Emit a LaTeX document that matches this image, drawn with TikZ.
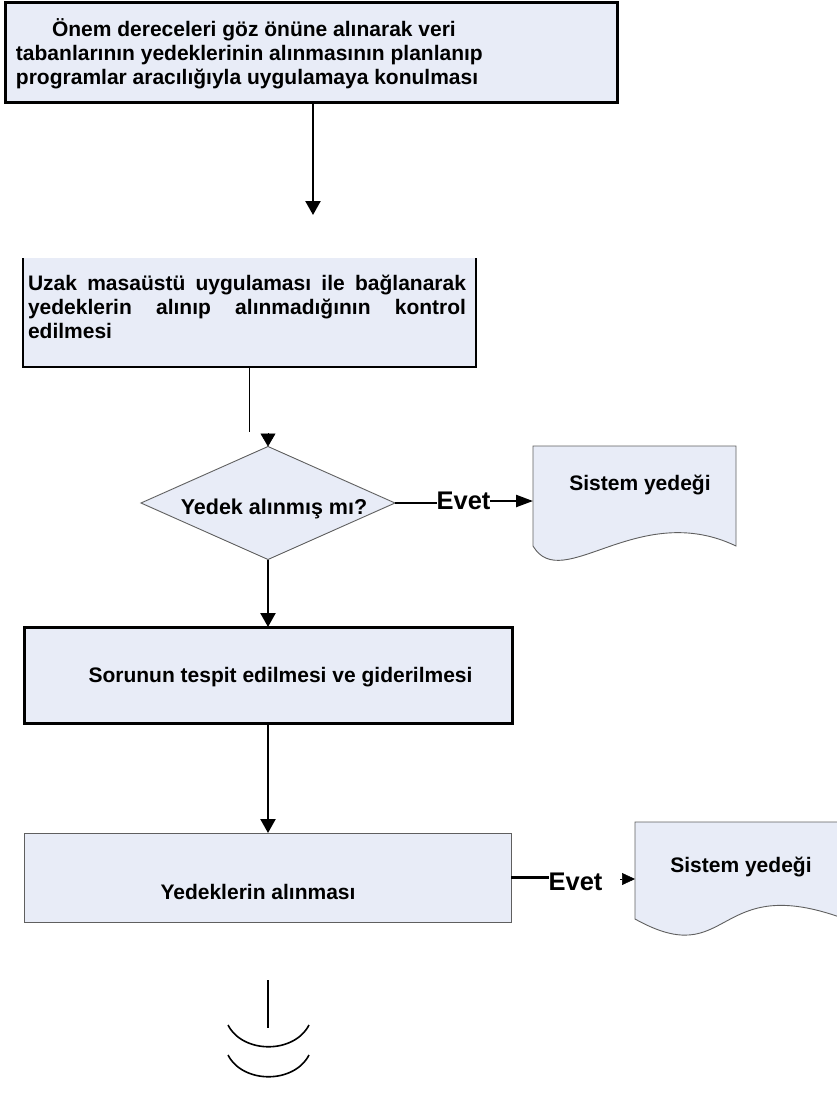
\documentclass[tikz,border=0pt]{standalone}
\usepackage{fontspec}
\setmainfont{Liberation Sans}
\usetikzlibrary{shapes.geometric,arrows.meta,calc}
\definecolor{boxfill}{RGB}{232,236,247}
\definecolor{thinedge}{RGB}{95,95,95}
\begin{document}
\begin{tikzpicture}[x=1pt,y=-1pt,
  every node/.style={inner sep=0pt, outer sep=0pt},
  txt/.style={font=\fontsize{21}{24}\selectfont\bfseries},
  evetlbl/.style={font=\fontsize{25.5}{28}\selectfont\bfseries},
  thickbox/.style={rectangle, draw=black, line width=3pt, fill=boxfill},
  thinbox/.style={rectangle, draw=thinedge, line width=0.9pt, fill=boxfill},
  docedge/.style={draw=thinedge, line width=0.9pt, fill=boxfill},
  conn/.style={line width=2.3pt},
  thinconn/.style={line width=1pt},
  arr/.style={conn, -{Triangle[length=14pt,width=15pt]}}
]
\useasboundingbox (0,0) rectangle (836,1095);

% top box
\node[thickbox, minimum width=612pt, minimum height=100pt] (b1) at (311,52) {};
\node[txt, anchor=base west, align=left] (t1) at (16,84)
  {\hspace*{36pt}Önem dereceleri göz önüne alınarak veri\\
   tabanlarının yedeklerinin alınmasının planlanıp\\
   programlar aracılığıyla uygulamaya konulması};
\coordinate (a1end) at (313,215);
\draw[arr] (b1.south -| a1end) -- (a1end);

% box 2 (no top edge)
\node[rectangle, fill=boxfill, minimum width=453pt, minimum height=109pt] (b2) at (249.5,312.5) {};
\draw[draw=black, line width=1.2pt] (b2.north west) -- (b2.south west) -- (b2.south east) -- (b2.north east);
\node[txt, anchor=base west, text width=438pt, align=justify] (t2) at (28,290)
  {Uzak masaüstü uygulaması ile bağlanarak\linebreak
   yedeklerin alınıp alınmadığının kontrol\linebreak
   edilmesi};

% decision
\node[diamond, draw=thinedge, fill=boxfill, line width=0.9pt, aspect=2.25,
      minimum width=254pt, minimum height=113pt] (dia) at (268,503) {};
\node[txt, font=\fontsize{21.5}{24}\selectfont\bfseries] (dt) at (274,509) {Yedek alınmış mı?};
\coordinate (c2) at (249,432);
\draw[thinconn] (b2.south -| c2) -- (c2);
\coordinate (c3) at (268,433);
\draw[line width=0.5pt, -{Triangle[length=13pt,width=15pt]}] (c3) -- (dia.north);

% Evet 1 and document 1
\node[minimum width=203pt, minimum height=100pt] (doc1) at (634.5,496) {};
\draw[docedge] (doc1.south west) -- (doc1.north west) -- (doc1.north east) -- (doc1.south east)
  .. controls ($(doc1.south east)+(-98,-47)$) and ($(doc1.south east)+(-174,49)$) .. (doc1.south west) -- cycle;
\node[txt] (d1t) at (640,485) {Sistem yedeği};
\node[evetlbl] (e1) at (463.5,501) {Evet};
\draw[conn] (dia.east) -- (e1.west |- dia.east);
\draw[conn, -{Triangle[length=17pt,width=12pt]}] (e1.east) -- (e1.east -| doc1.west);

% box 3
\node[thickbox, minimum width=488pt, minimum height=96pt] (b3) at (268,675) {};
\node[txt] (t3) at (280.5,677) {Sorunun tespit edilmesi ve giderilmesi};
\draw[arr] (dia.south) -- (b3.north);

% box 4
\node[thinbox, minimum width=487pt, minimum height=89pt] (b4) at (267.5,877.5) {};
\node[txt] (t4) at (258,892) {Yedeklerin alınması};
\draw[arr] (b3.south) -- (b3.south |- b4.north);

% Evet 2 and document 2
\node[minimum width=210pt, minimum height=97pt] (doc2) at (740,870.5) {};
\draw[docedge] (doc2.south west) -- (doc2.north west) -- (doc2.north east) -- (doc2.south east)
  .. controls ($(doc2.south east)+(-132,-49)$) and ($(doc2.south east)+(-113,54)$) .. (doc2.south west) -- cycle;
\node[txt] (d2t) at (741,867) {Sistem yedeği};
\node[evetlbl] (e2) at (575.5,882) {Evet};
\draw[conn] (b4.east) -- (e2.west |- b4.east);
\coordinate (c4) at (620,879);
\draw[line width=0.5pt, -{Triangle[length=13pt,width=12pt]}] (c4) -- (c4 -| doc2.west);

% bottom symbol
\coordinate (s1) at (268,980);
\coordinate (s2) at (268,1028);
\draw[conn] (s1) -- (s2);
\draw[line width=1.6pt] (228,1025) .. controls (243,1054) and (294,1054) .. (309,1025);
\draw[line width=1.6pt] (228,1055) .. controls (243,1084) and (294,1084) .. (309,1055);
\end{tikzpicture}
\end{document}
